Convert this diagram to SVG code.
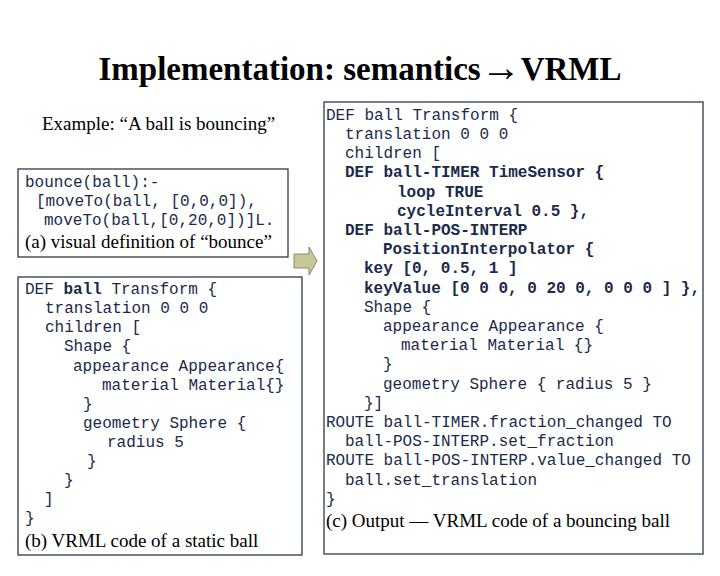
<svg xmlns="http://www.w3.org/2000/svg" width="720" height="576" viewBox="0 0 720 576">
<style>
.m{font-family:"Liberation Mono",monospace;font-size:16px;fill:#1a2a4a;white-space:pre}
.b{font-weight:bold}
.s{font-family:"Liberation Serif",serif;fill:#000}
.box{fill:#fff;stroke:#1a2a3a;stroke-width:1.2}
</style>
<rect width="720" height="576" fill="#fff"/>
<g id="title"><text class="s" x="360" y="80" text-anchor="middle" font-size="33" font-weight="bold" fill="#0a1a40">Implementation: semantics<tspan font-size="40" dy="1">→</tspan><tspan dy="-1">VRML</tspan></text></g>
<g id="example"><text class="s" x="42" y="130" font-size="19">Example: “A ball is bouncing”</text></g>
<g id="boxA">
<rect class="box" x="18" y="169" width="270" height="88"/>
<text class="m" x="25" y="187">bounce(ball):-</text>
<text class="m" x="36" y="206">[moveTo(ball, [0,0,0]),</text>
<text class="m" x="44" y="225">moveTo(ball,[0,20,0])]L.</text>
<text class="s" x="25" y="248" font-size="19">(a) visual definition of “bounce”</text>
</g>
<g id="boxB">
<rect class="box" x="18" y="277" width="284" height="278"/>
<text class="m" x="25" y="294">DEF <tspan class="b">ball</tspan> Transform {</text>
<text class="m" x="45" y="313">translation 0 0 0</text>
<text class="m" x="45" y="332">children [</text>
<text class="m" x="64" y="351">Shape {</text>
<text class="m" x="73" y="371">appearance Appearance{</text>
<text class="m" x="102" y="390">material Material{}</text>
<text class="m" x="83" y="409">}</text>
<text class="m" x="83" y="428">geometry Sphere {</text>
<text class="m" x="107" y="447">radius 5</text>
<text class="m" x="87" y="466">}</text>
<text class="m" x="64" y="485">}</text>
<text class="m" x="44" y="504">]</text>
<text class="m" x="25" y="523">}</text>
<text class="s" x="25" y="547" font-size="19">(b) VRML code of a static ball</text>
</g>
<g id="arrow"><path d="M294 254 H309 V247 L317 261 L309 275 V268 H294 Z" fill="#c9c79a" stroke="#8a8a6a"/></g>
<g id="boxC">
<rect class="box" x="324" y="102" width="379" height="452"/>
<text class="m" x="326" y="120">DEF ball Transform {</text>
<text class="m" x="345" y="139">translation 0 0 0</text>
<text class="m" x="345" y="158">children [</text>
<text class="m b" x="345" y="177">DEF ball-TIMER TimeSensor {</text>
<text class="m b" x="397" y="197">loop TRUE</text>
<text class="m b" x="397" y="216">cycleInterval 0.5 },</text>
<text class="m b" x="345" y="235">DEF ball-POS-INTERP</text>
<text class="m b" x="383" y="254">PositionInterpolator {</text>
<text class="m b" x="364" y="273">key [0, 0.5, 1 ]</text>
<text class="m b" x="364" y="293">keyValue [0 0 0, 0 20 0, 0 0 0 ] },</text>
<text class="m" x="364" y="312">Shape {</text>
<text class="m" x="383" y="331">appearance Appearance {</text>
<text class="m" x="401" y="350">material Material {}</text>
<text class="m" x="383" y="369">}</text>
<text class="m" x="383" y="389">geometry Sphere { radius 5 }</text>
<text class="m" x="364" y="408">}]</text>
<text class="m" x="326" y="427">ROUTE ball-TIMER.fraction_changed TO</text>
<text class="m" x="345" y="446">ball-POS-INTERP.set_fraction</text>
<text class="m" x="326" y="465">ROUTE ball-POS-INTERP.value_changed TO</text>
<text class="m" x="345" y="485">ball.set_translation</text>
<text class="m" x="326" y="504">}</text>
<text class="s" x="326" y="527" font-size="19">(c) Output — VRML code of a bouncing ball</text>
</g>
</svg>
